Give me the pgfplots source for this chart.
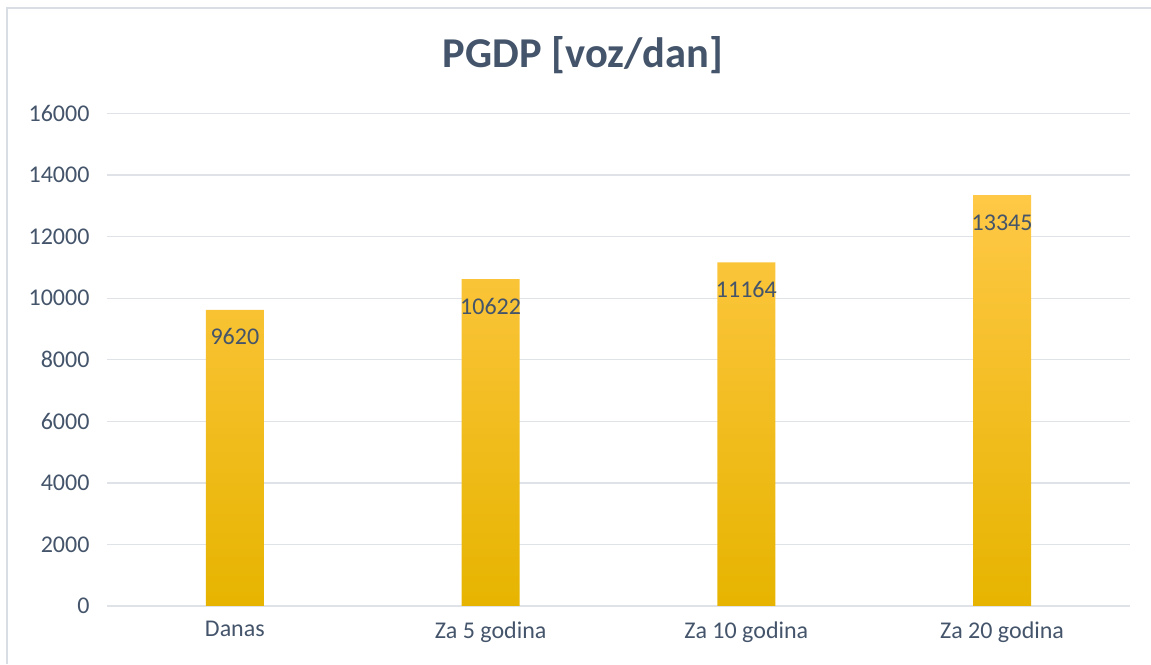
\documentclass[border=0pt]{standalone}
\usepackage{pgfplots}
\pgfplotsset{compat=1.18}
\usepackage{fontspec}
\setmainfont{Carlito}
\definecolor{txt}{HTML}{44546A}
\definecolor{gridc}{HTML}{DFE3E8}
\definecolor{framec}{HTML}{D9DEE4}
\definecolor{btop}{HTML}{FFC846}
\definecolor{bmid}{HTML}{FFC000}
\definecolor{bbot}{HTML}{E6B400}
\begin{document}
\begin{tikzpicture}
\path[use as bounding box] (0pt,0pt) rectangle (1151pt,664pt);
\draw[framec, line width=1.5pt] (7pt,0pt) -- (7pt,656pt) -- (1160pt,656pt);
\node[anchor=base, text=txt, font=\fontsize{42.5}{50}\selectfont\bfseries] at (583pt,596pt) {PGDP [voz/dan]};
\begin{axis}[
  at={(107pt,58pt)}, anchor=south west,
  scale only axis, width=1023pt, height=492.5pt,
  xmin=-0.5, xmax=3.5, ymin=0, ymax=16000,
  ytick={0,2000,...,16000},
  scaled y ticks=false,
  xtick={0,1,2,3},
  xticklabels={Danas, Za 5 godina, Za 10 godina, Za 20 godina},
  axis line style={draw=none},
  major tick length=0pt,
  ymajorgrids, major grid style={gridc, line width=1.3pt},
  ticklabel style={text=txt, font=\fontsize{24}{28}\selectfont},
  /pgf/number format/assume math mode=true,
  /pgf/number format/1000 sep={},
  yticklabel style={xshift=-14pt},
  xticklabel style={yshift=-12pt},
  ybar, bar width=58pt,
  clip=false,
  nodes near coords,
  nodes near coords style={anchor=base, yshift=-35pt, text=txt, font=\fontsize{24}{28}\selectfont, /pgf/number format/1000 sep={}},
]
\addplot[draw=none, top color=btop, middle color=bmid, bottom color=bbot] coordinates {(0,9620) (1,10622) (2,11164) (3,13345)};
\end{axis}
\end{tikzpicture}
\end{document}
